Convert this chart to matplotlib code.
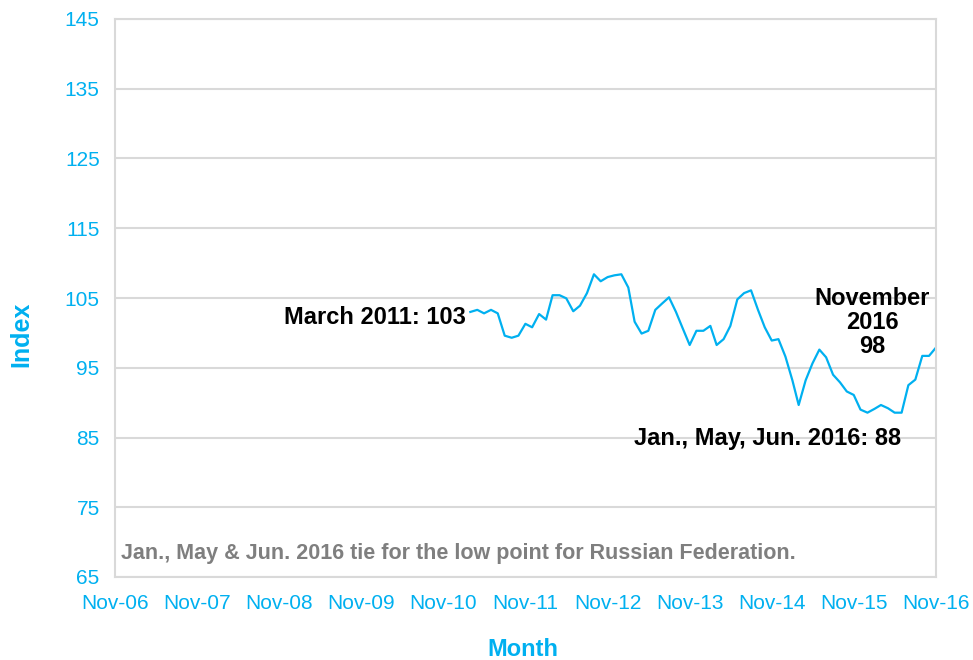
import matplotlib
matplotlib.use("Agg")
import matplotlib.pyplot as plt
import pandas as pd

start_month = "2011-03"
index_values = [
    103.0, 103.3, 102.8, 103.3, 102.8, 99.6, 99.3, 99.6, 101.3, 100.8,   # Mar-11 .. Dec-11
    102.7, 101.9, 105.4, 105.4, 104.95, 103.1, 103.9, 105.7, 108.4, 107.4, 108.0, 108.25,  # 2012
    108.4, 106.5, 101.6, 99.9, 100.3, 103.3, 104.2, 105.1, 103.0, 100.65, 98.26, 100.3,   # 2013
    100.3, 101.0, 98.26, 99.1, 101.0, 104.8, 105.7, 106.1, 103.3, 100.8, 98.9, 99.1,      # 2014
    96.6, 93.2, 89.66, 93.2, 95.6, 97.6, 96.5, 94.0, 92.9, 91.6, 91.1, 89.0,              # 2015
    88.56, 89.1, 89.66, 89.2, 88.56, 88.56, 92.5, 93.3, 96.7, 96.7, 97.9,                 # 2016
]
months = pd.date_range(start=start_month, periods=len(index_values), freq="MS")

y_ticks = [65, 75, 85, 95, 105, 115, 125, 135, 145]
x_tick_labels = ["Nov-06", "Nov-07", "Nov-08", "Nov-09", "Nov-10", "Nov-11",
                 "Nov-12", "Nov-13", "Nov-14", "Nov-15", "Nov-16"]
x_tick_dates = pd.to_datetime(["2006-11-01", "2007-11-01", "2008-11-01", "2009-11-01",
                               "2010-11-01", "2011-11-01", "2012-11-01", "2013-11-01",
                               "2014-11-01", "2015-11-01", "2016-11-01"])

BLUE = "#00B0F0"
GRID = "#D9D9D9"

plt.rcParams["font.family"] = ["Liberation Sans", "DejaVu Sans"]

fig = plt.figure(figsize=(9.73, 6.6), dpi=100)
ax = fig.add_axes([115 / 973, 1 - 577 / 660, (936 - 115) / 973, (577 - 19) / 660])

ax.plot(months, index_values, color=BLUE, linewidth=1.6, solid_joinstyle="round")

ax.set_xlim(x_tick_dates[0], x_tick_dates[-1])
ax.set_ylim(65, 145)
ax.set_yticks(y_ticks)
ax.set_yticklabels([str(v) for v in y_ticks], color=BLUE, fontsize=15)
ax.set_xticks(x_tick_dates)
ax.set_xticklabels(x_tick_labels, color=BLUE, fontsize=15)
ax.tick_params(axis="both", length=0)
ax.tick_params(axis="y", pad=11)
ax.tick_params(axis="x", pad=12)

ax.grid(axis="y", color=GRID, linewidth=1.5)
ax.set_axisbelow(True)
for sp in ax.spines.values():
    sp.set_color(GRID)
    sp.set_linewidth(1.5)

ax.set_ylabel("Index", color=BLUE, fontsize=18, fontweight="bold")
ax.set_xlabel("Month", color=BLUE, fontsize=17, fontweight="bold")
ax.yaxis.set_label_coords(-0.1, 0.435)
ax.xaxis.set_label_coords(0.497, -0.11)

ax.annotate("March 2011: 103", xy=(months[0], index_values[0]), xytext=(-3, -4),
            textcoords="offset points", ha="right", va="center",
            fontsize=17, fontweight="bold", color="black")
ax.annotate("November\n2016\n98", xy=(months[-1], index_values[-1]), xytext=(-46, 18),
            textcoords="offset points", ha="center", va="center",
            fontsize=17, fontweight="bold", color="black", linespacing=1.08)
ax.annotate("Jan., May, Jun. 2016: 88", xy=(months[-6], index_values[-6]), xytext=(0, -18.5),
            textcoords="offset points", ha="right", va="center",
            fontsize=17, fontweight="bold", color="black")
ax.text(0.0073, 0.043, "Jan., May & Jun. 2016 tie for the low point for Russian Federation.",
        transform=ax.transAxes, ha="left", va="center", fontsize=15.5,
        fontweight="bold", color="#7F7F7F")

fig.savefig("out.png", dpi=100)
